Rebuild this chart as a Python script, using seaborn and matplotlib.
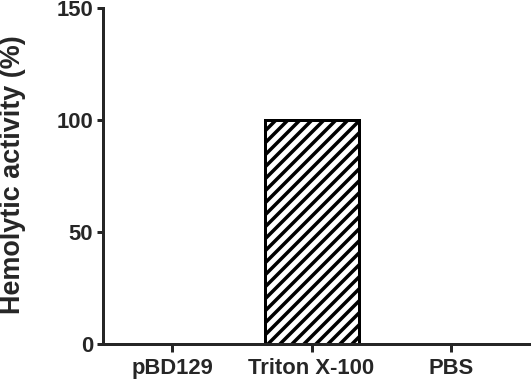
import matplotlib
matplotlib.use("Agg")
import matplotlib.pyplot as plt
import seaborn as sns

# data
categories = ["pBD129", "Triton X-100", "PBS"]
activity = [0, 100, 0]
y_ticks = [0, 50, 100, 150]

sns.set_style("ticks")
plt.rcParams["font.family"] = ["Liberation Sans", "DejaVu Sans"]
plt.rcParams["font.weight"] = "bold"
plt.rcParams["hatch.linewidth"] = 3.5

DPI = 72
fig = plt.figure(figsize=(531 / DPI, 386 / DPI), dpi=DPI)
ax = fig.add_axes([103 / 531, 42 / 386, 428 / 531, 336 / 386])

sns.barplot(x=categories, y=activity, color="white", edgecolor="black",
            linewidth=3, width=0.674, saturation=1, ax=ax)

# only the Triton X-100 bar is hatched
ax.patches[1].set_hatch("//")

ax.set_ylim(0, 150)
ax.set_xlim(-0.495, 2.573)
ax.set_yticks(y_ticks)
sns.despine(ax=ax)
for side in ["left", "bottom"]:
    ax.spines[side].set_linewidth(3)
ax.tick_params(axis="y", length=6, width=3, pad=4, labelsize=22)
ax.tick_params(axis="x", length=8, width=3, pad=6, labelsize=22)
for lab in ax.get_xticklabels() + ax.get_yticklabels():
    lab.set_fontweight("bold")

ax.set_xlabel("")
ax.set_ylabel("Hemolytic activity (%)", fontsize=27, fontweight="bold")
ax.yaxis.set_label_coords(-0.18, 0.503)

fig.savefig("out.png", dpi=DPI)
